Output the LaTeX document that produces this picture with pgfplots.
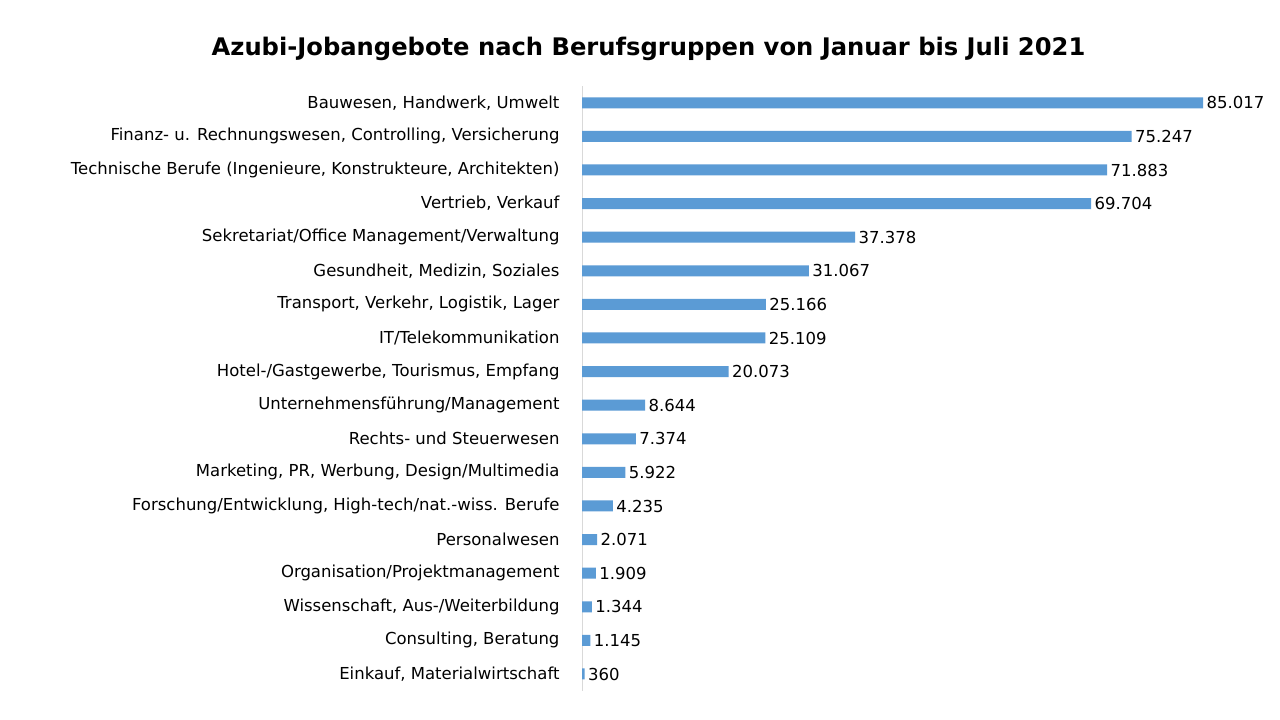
\documentclass[border=0pt]{standalone}
\usepackage{pgfplots}
\pgfplotsset{compat=1.18}
\usepackage{pgfplotstable}
\usepackage{fontspec}
\setmainfont{DejaVu Sans}
\definecolor{barblue}{HTML}{5B9BD5}
\definecolor{axgray}{HTML}{D9D9D9}
\pgfplotstableread[col sep=comma]{
idx,val
17,85017
16,75247
15,71883
14,69704
13,37378
12,31067
11,25166
10,25109
9,20073
8,8644
7,7374
6,5922
5,4235
4,2071
3,1909
2,1344
1,1145
0,360
}\datatable
\begin{document}
\begin{tikzpicture}
\path[use as bounding box, fill=white] (0pt,0pt) rectangle (1280pt,720pt);
\node[font=\fontsize{24.2}{28}\selectfont\bfseries] at (648.5pt,671pt) {Azubi-Jobangebote nach Berufsgruppen von Januar bis Juli 2021};
\begin{axis}[
  at={(582pt,29.2pt)}, anchor=south west,
  scale only axis, width=621pt, height=604.8pt,
  xmin=0, xmax=85017,
  ymin=-0.5, ymax=17.5,
  xbar, bar width=11pt,
  hide x axis,
  axis y line*=left,
  y axis line style={axgray},
  ytick={0,...,17},
  yticklabels={
    {Einkauf, Materialwirtschaft},
    {Consulting, Beratung},
    {Wissenschaft, Aus-/Weiterbildung},
    {Organisation/Projektmanagement},
    {Personalwesen},
    {Forschung/Entwicklung, High-tech/nat.-wiss. Berufe},
    {Marketing, PR, Werbung, Design/Multimedia},
    {Rechts- und Steuerwesen},
    {Unternehmensführung/Management},
    {Hotel-/Gastgewerbe, Tourismus, Empfang},
    {IT/Telekommunikation},
    {Transport, Verkehr, Logistik, Lager},
    {Gesundheit, Medizin, Soziales},
    {Sekretariat/Office Management/Verwaltung},
    {Vertrieb, Verkauf},
    {Technische Berufe (Ingenieure, Konstrukteure, Architekten)},
    {Finanz- u. Rechnungswesen, Controlling, Versicherung},
    {Bauwesen, Handwerk, Umwelt}},
  major tick length=0pt,
  yticklabel style={font=\fontsize{16.5}{19}\selectfont, anchor=east, xshift=-19pt},
  nodes near coords,
  nodes near coords style={font=\fontsize{16.5}{19}\selectfont, anchor=west, xshift=0pt,
    /pgf/number format/.cd, fixed, precision=0, 1000 sep={.}, assume math mode=true},
  clip=false,
]
\addplot[fill=barblue, draw=none] table[x=val, y=idx] {\datatable};
\end{axis}
\end{tikzpicture}
\end{document}
